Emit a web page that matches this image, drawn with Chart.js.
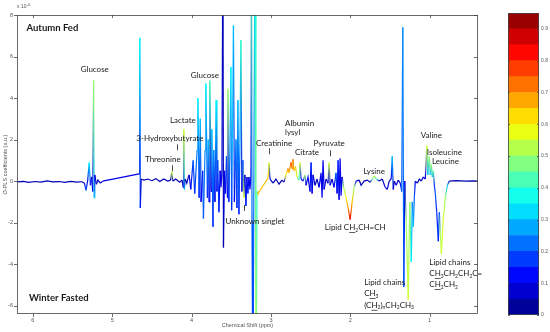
<!DOCTYPE html>
<html>
<head>
<meta charset="utf-8">
<script src="https://cdn.jsdelivr.net/npm/chart.js@4.4.1/dist/chart.umd.min.js"></script>
<style>
  html, body { margin: 0; padding: 0; background: #fff; }
  #wrap { position: relative; width: 550px; height: 332px; }
  #spec { position: absolute; left: 0; top: 0; width: 490px; height: 332px; }
  #cbar { position: absolute; left: 490px; top: 0; width: 60px; height: 332px; }
</style>
</head>
<body>
<div id="wrap">
  <div id="spec"><canvas id="specCanvas"></canvas></div>
  <div id="cbar"><canvas id="cbarCanvas"></canvas></div>
</div>
<script>
// chemical shift (ppm), O-PLS coefficient (x 1e-6) and correlation (colour) per point
const shift = [
  6.20, 6.12, 6.05, 5.97, 5.90, 5.82, 5.75, 5.67, 5.60, 5.52, 5.45, 5.38,
  5.35, 5.33, 5.31, 5.29, 5.275, 5.26, 5.245, 5.235, 5.228, 5.22, 5.20, 5.18, 5.15, 5.12,
  4.66, 4.653, 4.646, 4.635, 4.60, 4.55, 4.50, 4.45, 4.40, 4.35, 4.30, 4.265, 4.25, 4.235, 4.20, 4.15, 4.12,
  4.105, 4.098, 4.09, 4.08, 4.06, 4.04,
  4.03, 4.01, 3.98, 3.96, 3.93, 3.92, 3.905, 3.89, 3.88, 3.86,
  3.85, 3.83, 3.82, 3.80, 3.79, 3.78, 3.77, 3.755, 3.745, 3.73,
  3.72, 3.705, 3.69, 3.68, 3.67, 3.655, 3.64, 3.63, 3.617,
  3.605, 3.598, 3.585, 3.573, 3.56, 3.548, 3.542, 3.53, 3.517, 3.504,
  3.495, 3.485, 3.472, 3.46, 3.44, 3.428, 3.416, 3.403, 3.39, 3.378,
  3.366, 3.353, 3.34, 3.328, 3.315, 3.302, 3.29, 3.277, 3.264, 3.251,
  3.245, 3.238, 3.226, 3.213, 3.20, 3.188, 3.175, 3.163,
  3.036, 3.024, 3.011, 2.973, 2.936, 2.898, 2.86, 2.835, 2.81, 2.785,
  2.772, 2.746, 2.734, 2.722, 2.71, 2.69, 2.671, 2.646, 2.633, 2.62,
  2.595, 2.57, 2.557,
  2.532, 2.507, 2.494, 2.481, 2.469, 2.444, 2.418, 2.393, 2.368, 2.355,
  2.343, 2.33, 2.305, 2.28, 2.267, 2.254, 2.229, 2.204, 2.179, 2.166,
  2.153, 2.141, 2.128, 2.116, 2.103,
  2.084, 2.052, 2.027, 2.001, 1.976, 1.951, 1.926, 1.888, 1.863, 1.825,
  1.787, 1.749, 1.723, 1.698, 1.673, 1.635, 1.597, 1.559, 1.534, 1.509,
  1.484, 1.471, 1.458, 1.446, 1.42, 1.395, 1.37,
  1.351, 1.338, 1.325, 1.313, 1.294, 1.269, 1.25, 1.231, 1.218, 1.205,
  1.193, 1.18, 1.155, 1.13, 1.105, 1.08, 1.054, 1.035, 1.023, 1.004,
  0.991, 0.978, 0.966, 0.953, 0.94, 0.928, 0.91, 0.89, 0.877, 0.865,
  0.852, 0.827, 0.802, 0.776, 0.751, 0.663, 0.537, 0.45, 0.39
];
const coef = [
  -0.04, -0.01, -0.06, -0.02, -0.05, 0.01, -0.04, -0.02, -0.06, -0.01, -0.05, -0.03,
  -0.1, -0.45, 0.0, 0.9, -0.2, 0.2, -0.5, 4.85, -0.8, 0.3, -0.15, 0.05, -0.1, 0.0,
  0.35, 6.9, -1.3, 0.1, 0.05, 0.1, 0.02, 0.12, -0.02, 0.1, 0.0, 0.05, 0.45, 0.0, 0.1, -0.05, 0.05,
  -0.3, 2.5, -0.4, 0.1, -0.1, 0.2,
  0.3, -0.4, 1.0, -0.6, 1.5, 4.0, -0.8, 3.0, -1.0, 0.5,
  -1.8, 1.5, 4.7, -0.8, 2.0, -1.0, 4.85, -0.5, 2.5, -2.2,
  1.5, -1.0, 3.9, -0.5, 1.0, -1.5, 0.5, -0.3, 0.3,
  12, -3.2, 0.5, -0.6, 1.2, -0.8, 4.45, -1.0, 1.5, 5.5,
  -1.4, 2.0, 7.5, -1.0, 2.0, -1.3, 3.9, -1.6, 1.8, 6.8,
  -0.5, 1.0, -0.8, 0.3, -1.2, 0.2, -0.6, 0.2, -0.4, 0.3,
  12, -2.0, -12, 2.0, 12, -12, -0.5, -0.6,
  0.15, 0.9, 0.1, -0.1, 0.1, -0.15, 0.05, -0.05, 0.3, 0.6,
  0.4, 0.9, 0.6, 1.05, 0.5, 0.7, 0.2, 0.05, 0.9, 0.1,
  0.0, 0.3, -0.2,
  0.2, -0.5, 0.9, -0.6, 0.3, -0.2, 0.1, -0.3, 0.4, -0.8,
  1.0, -0.4, 0.1, -0.1, 0.9, -0.2, 0.1, -0.3, 0.4, -0.6,
  1.0, -0.9, 1.1, -0.7, 0.2,
  -0.3, -0.8, -1.3, -1.85, -1.0, -0.3, 0.0, 0.05, -0.2, 0.0,
  0.05, -0.05, 0.1, 0.25, 0.1, 0.0, 0.1, -0.3, -0.4, 0.0,
  0.1, 1.2, -0.4, 0.0, -0.2, 0.05, -0.1,
  -0.5, 7.4, -5.1, 0.0, -2.0, -5.7, -1.0, -3.9, -1.0, -2.2,
  -0.8, 0.0, -0.1, 0.1, 0.0, 0.2, 0.1, 1.7, 0.3, 1.2,
  0.3, 0.8, 0.2, 0.5, -0.2, -0.6, -1.5, -2.9, -1.5, -2.5,
  -3.5, -1.8, -0.8, -0.2, 0.0, 0.02, 0.0, 0.01, 0.0
];
const corr = [
  0.05, 0.05, 0.05, 0.05, 0.05, 0.05, 0.05, 0.05, 0.05, 0.05, 0.05, 0.05,
  0.1, 0.2, 0.1, 0.35, 0.15, 0.1, 0.1, 0.5, 0.3, 0.1, 0.05, 0.05, 0.05, 0.1,
  0.1, 0.35, 0.15, 0.05, 0.05, 0.05, 0.05, 0.05, 0.05, 0.05, 0.05, 0.05, 0.55, 0.05, 0.05, 0.05, 0.05,
  0.1, 0.55, 0.3, 0.05, 0.05, 0.05,
  0.1, 0.1, 0.2, 0.15, 0.25, 0.35, 0.15, 0.3, 0.1, 0.15,
  0.2, 0.25, 0.35, 0.15, 0.3, 0.1, 0.42, 0.1, 0.3, 0.15,
  0.25, 0.1, 0.35, 0.1, 0.2, 0.15, 0.1, 0.1, 0.1,
  0.05, 0.05, 0.1, 0.1, 0.2, 0.1, 0.5, 0.15, 0.25, 0.35,
  0.15, 0.3, 0.3, 0.1, 0.25, 0.15, 0.3, 0.15, 0.25, 0.4,
  0.1, 0.2, 0.55, 0.1, 0.15, 0.1, 0.15, 0.1, 0.1, 0.1,
  0.45, 0.2, 0.15, 0.25, 0.35, 0.55, 0.4, 0.65,
  0.65, 0.55, 0.1, 0.05, 0.05, 0.05, 0.05, 0.1, 0.6, 0.7,
  0.65, 0.75, 0.7, 0.72, 0.65, 0.65, 0.55, 0.4, 0.55, 0.15,
  0.1, 0.5, 0.1,
  0.1, 0.1, 0.15, 0.1, 0.1, 0.05, 0.05, 0.1, 0.1, 0.1,
  0.1, 0.1, 0.05, 0.1, 0.55, 0.1, 0.05, 0.1, 0.2, 0.1,
  0.15, 0.1, 0.1, 0.1, 0.1,
  0.5, 0.6, 0.7, 0.85, 0.65, 0.5, 0.1, 0.05, 0.05, 0.05,
  0.05, 0.05, 0.45, 0.55, 0.4, 0.05, 0.05, 0.1, 0.1, 0.05,
  0.1, 0.3, 0.1, 0.05, 0.1, 0.05, 0.1,
  0.2, 0.25, 0.2, 0.1, 0.5, 0.55, 0.5, 0.35, 0.25, 0.3,
  0.2, 0.1, 0.05, 0.05, 0.05, 0.1, 0.1, 0.55, 0.3, 0.5,
  0.3, 0.5, 0.3, 0.45, 0.15, 0.2, 0.15, 0.15, 0.2, 0.5,
  0.55, 0.55, 0.5, 0.3, 0.05, 0.05, 0.05, 0.05, 0.05
];

const xTicks = [6, 5, 4, 3, 2, 1];
const yTicks = [-6, -4, -2, 0, 2, 4, 6, 8];
const cbarEdges = [0, 0.05, 0.1, 0.15, 0.2, 0.25, 0.3, 0.35, 0.4, 0.45, 0.5,
  0.55, 0.6, 0.65, 0.7, 0.75, 0.8, 0.85, 0.9, 0.95];
const cbarTicks = [0, 0.1, 0.2, 0.3, 0.4, 0.5, 0.6, 0.7, 0.8, 0.9];
const CORR_MAX = 0.95;

// metabolite labels, placed in data units (ppm, coefficient)
const notes = [
  { t: 'Autumn Fed', x: 6.08, y: 7.39, align: 'left', bold: true },
  { t: 'Winter Fasted', x: 6.05, y: -5.61, align: 'left', bold: true },
  { t: 'Glucose', x: 5.22, y: 5.37 },
  { t: 'Glucose', x: 3.832, y: 5.08 },
  { t: 'Lactate', x: 4.11, y: 2.93 },
  { t: '3-Hydroxybutyrate', x: 4.274, y: 2.06 },
  { t: 'Threonine', x: 4.362, y: 1.06 },
  { t: 'Unknown singlet', x: 3.201, y: -1.92 },
  { t: 'Creatinine', x: 2.96, y: 1.82 },
  { t: 'Albumin', x: 2.822, y: 2.78, align: 'left' },
  { t: 'lysyl', x: 2.822, y: 2.35, align: 'left' },
  { t: 'Citrate', x: 2.545, y: 1.39 },
  { t: 'Pyruvate', x: 2.267, y: 1.82 },
  { t: 'Lysine', x: 1.698, y: 0.48 },
  { t: 'Lipid C[H]{2}CH=CH', x: 2.32, y: -2.25, align: 'left' },
  { t: 'Valine', x: 0.978, y: 2.21 },
  { t: 'Isoleucine', x: 0.814, y: 1.39 },
  { t: 'Leucine', x: 0.80, y: 0.96 },
  { t: 'Lipid chains', x: 1.004, y: -3.93, align: 'left' },
  { t: 'C[H]{3}CH{2}CH{2}C=', x: 1.004, y: -4.46, align: 'left' },
  { t: 'C[H]{2}CH{2}', x: 1.004, y: -4.99, align: 'left' },
  { t: 'Lipid chains', x: 1.825, y: -4.89, align: 'left' },
  { t: 'C[H]{3}', x: 1.825, y: -5.42, align: 'left' },
  { t: '(C[H]{2}){n}CH{2}CH{3}', x: 1.825, y: -5.99, align: 'left' }
];
// short pointer marks under some labels
const marks = [
  { x: 4.186, y: 1.63 },
  { x: 4.249, y: 0.62 },
  { x: 3.34, y: -1.29 },
  { x: 3.024, y: 1.44 },
  { x: 2.257, y: 1.34 }
];

Chart.defaults.font.family = '"Liberation Sans", Arial, sans-serif';

function jet(v) {
  const t = Math.max(0, Math.min(1, v / CORR_MAX));
  const c = k => Math.round(255 * Math.max(0, Math.min(1, k)));
  const r = c(Math.min(4 * t - 1.5, -4 * t + 4.5));
  const g = c(Math.min(4 * t - 0.5, -4 * t + 3.5));
  const b = c(Math.min(4 * t + 0.5, -4 * t + 2.5));
  return `rgb(${r},${g},${b})`;
}

// each segment fades from the colour of one point to the next
function segmentColor(ctx) {
  const c0 = jet(corr[ctx.p0DataIndex]);
  const c1 = jet(corr[ctx.p1DataIndex]);
  if (c0 === c1) return c0;
  const { p0, p1 } = ctx;
  const grad = ctx.chart.ctx.createLinearGradient(p0.x, p0.y, p1.x, p1.y);
  grad.addColorStop(0, c0);
  grad.addColorStop(1, c1);
  return grad;
}

function drawRich(ctx, text, x, y, size, align) {
  const parts = [];
  text.replace(/\[([^\]]+)\]|\{([^}]+)\}|([^\[{]+)/g, (m, u, s, n) => {
    if (u) parts.push({ t: u, u: true });
    else if (s) parts.push({ t: s, sub: true });
    else parts.push({ t: n });
  });
  const fontOf = p => `${p.sub ? size * 0.62 : size}px Lato`;
  let total = 0;
  parts.forEach(p => { ctx.font = fontOf(p); p.w = ctx.measureText(p.t).width; total += p.w; });
  let cx = align === 'left' ? x : x - total / 2;
  ctx.textAlign = 'left';
  parts.forEach(p => {
    ctx.font = fontOf(p);
    ctx.fillText(p.t, cx, p.sub ? y + size * 0.3 : y);
    if (p.u) ctx.fillRect(cx, y + size * 0.55, p.w, 0.7);
    cx += p.w;
  });
}

const framePlugin = {
  id: 'frame',
  afterDatasetsDraw(chart) {
    const { ctx, chartArea: a, scales: { x, y } } = chart;
    ctx.save();
    ctx.strokeStyle = '#444';
    ctx.lineWidth = 0.8;
    ctx.strokeRect(a.left + 0.5, a.top + 0.5, a.right - a.left - 1, a.bottom - a.top - 1);
    ctx.beginPath();
    xTicks.forEach(v => {
      const px = Math.round(x.getPixelForValue(v)) + 0.5;
      ctx.moveTo(px, a.bottom); ctx.lineTo(px, a.bottom + 3);
      ctx.moveTo(px, a.top); ctx.lineTo(px, a.top + 3);
    });
    yTicks.forEach(v => {
      const py = Math.round(y.getPixelForValue(v)) + 0.5;
      ctx.moveTo(a.left - 3, py); ctx.lineTo(a.left, py);
      ctx.moveTo(a.right - 4, py); ctx.lineTo(a.right, py);
    });
    ctx.stroke();

    // exponent above the y axis
    ctx.fillStyle = '#555';
    ctx.textBaseline = 'middle';
    ctx.textAlign = 'left';
    ctx.font = '5px "Liberation Sans"';
    ctx.fillText('x 10', a.left, a.top - 8);
    ctx.font = '4px "Liberation Sans"';
    ctx.fillText('-6', a.left + 10, a.top - 10);

    // labels
    ctx.fillStyle = '#1a1a1a';
    notes.forEach(n => {
      const px = x.getPixelForValue(n.x);
      const py = y.getPixelForValue(n.y);
      if (n.bold) {
        ctx.font = 'bold 9.5px Lato';
        ctx.textAlign = n.align || 'center';
        ctx.fillText(n.t, px, py);
      } else {
        drawRich(ctx, n.t, px, py, 8, n.align);
      }
    });
    ctx.strokeStyle = '#1a1a1a';
    ctx.lineWidth = 0.8;
    ctx.beginPath();
    marks.forEach(m => {
      const px = Math.round(x.getPixelForValue(m.x)) + 0.5;
      const py = y.getPixelForValue(m.y);
      ctx.moveTo(px, py - 3); ctx.lineTo(px, py + 3);
    });
    ctx.stroke();
    ctx.restore();
  }
};

new Chart(document.getElementById('specCanvas'), {
  type: 'line',
  data: {
    datasets: [{
      data: shift.map((s, i) => ({ x: s, y: coef[i] })),
      borderColor: jet(0.05),
      borderWidth: 1.2,
      pointRadius: 0,
      tension: 0,
      segment: { borderColor: segmentColor }
    }]
  },
  options: {
    responsive: true,
    maintainAspectRatio: false,
    animation: false,
    layout: { padding: { top: 15, right: 12, left: 0, bottom: 0 } },
    plugins: { legend: { display: false }, tooltip: { enabled: false } },
    scales: {
      x: {
        type: 'linear',
        reverse: true,
        min: 0.39,
        max: 6.2,
        afterBuildTicks: s => { s.ticks = xTicks.map(v => ({ value: v })); },
        afterFit: s => { s.height = 18; },
        grid: { display: false, drawTicks: false },
        border: { display: false },
        ticks: { font: { size: 5.5 }, color: '#555', padding: 3, maxRotation: 0 },
        title: { display: true, text: 'Chemical Shift (ppm)', font: { size: 5.5 }, color: '#555', padding: { top: 0, bottom: 3 } }
      },
      y: {
        min: -6.4,
        max: 8,
        afterBuildTicks: s => { s.ticks = yTicks.map(v => ({ value: v })); },
        afterFit: s => { s.width = 17; },
        grid: { display: false, drawTicks: false },
        border: { display: false },
        ticks: { font: { size: 5.5 }, color: '#555', padding: 4 },
        title: { display: true, text: 'O-PLS coefficients (a.u.)', font: { size: 5.5 }, color: '#555', padding: { top: 2, bottom: 0 } }
      }
    }
  },
  plugins: [framePlugin]
});

// colour bar
const cbarFrame = {
  id: 'cbarFrame',
  afterDatasetsDraw(chart) {
    const { ctx, chartArea: a, scales: { y } } = chart;
    ctx.save();
    ctx.strokeStyle = '#444';
    ctx.lineWidth = 0.8;
    ctx.strokeRect(a.left + 0.5, a.top + 0.5, a.right - a.left - 1, a.bottom - a.top - 1);
    ctx.beginPath();
    cbarTicks.forEach(v => {
      const py = Math.round(y.getPixelForValue(v)) + 0.5;
      ctx.moveTo(a.left, py); ctx.lineTo(a.left + 2, py);
      ctx.moveTo(a.right - 2, py); ctx.lineTo(a.right, py);
    });
    ctx.stroke();
    ctx.restore();
  }
};

new Chart(document.getElementById('cbarCanvas'), {
  type: 'bar',
  data: {
    labels: [''],
    datasets: cbarEdges.slice(0, -1).map((lo, i) => ({
      data: [[lo, cbarEdges[i + 1]]],
      backgroundColor: jet((lo + cbarEdges[i + 1]) / 2),
      borderWidth: 0,
      barPercentage: 1,
      categoryPercentage: 1,
      grouped: false
    }))
  },
  options: {
    responsive: true,
    maintainAspectRatio: false,
    animation: false,
    layout: { padding: { left: 18, top: 13, bottom: 17, right: 0 } },
    plugins: { legend: { display: false }, tooltip: { enabled: false } },
    scales: {
      x: { display: false },
      y: {
        position: 'right',
        min: 0,
        max: 0.95,
        afterBuildTicks: s => { s.ticks = cbarTicks.map(v => ({ value: v })); },
        afterFit: s => { s.width = 11; },
        grid: { display: false, drawTicks: false },
        border: { display: false },
        ticks: { font: { size: 5 }, color: '#555', padding: 2 }
      }
    }
  },
  plugins: [cbarFrame]
});
</script>
</body>
</html>
